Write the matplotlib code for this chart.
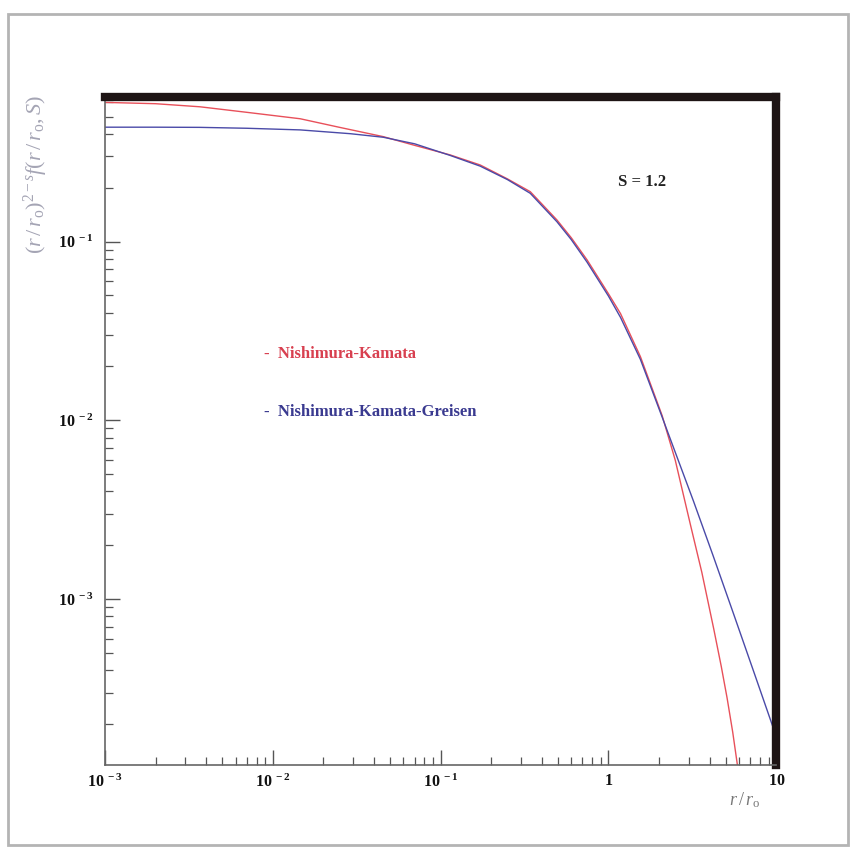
import matplotlib
matplotlib.use('Agg')
import matplotlib.pyplot as plt
from matplotlib.patches import Rectangle
from matplotlib.ticker import LogLocator, NullFormatter, FixedLocator

plt.rcParams['font.family'] = 'Liberation Serif'
plt.rcParams['mathtext.fontset'] = 'custom'
plt.rcParams['mathtext.rm'] = 'Liberation Serif'
plt.rcParams['mathtext.it'] = 'Liberation Serif:italic'
plt.rcParams['mathtext.bf'] = 'Liberation Serif:bold'

# lateral distribution, S = 1.2
r_nk = [0.001, 0.002, 0.00368, 0.007, 0.01456, 0.025, 0.0455, 0.07, 0.114,
        0.172, 0.25, 0.342, 0.493, 0.6, 0.745, 1.0, 1.18, 1.55, 2.09, 2.5,
        3.08, 3.6, 4.24, 4.7, 5.09, 5.5, 5.85, 6.2]
f_nk = [0.600, 0.590, 0.567, 0.528, 0.486, 0.435, 0.386, 0.345, 0.305,
        0.268, 0.224, 0.190, 0.132, 0.105, 0.079, 0.051, 0.0395, 0.0227, 0.0106, 5.98e-3,
        2.6e-3, 1.41e-3, 6.8e-4, 4.2e-4, 2.8e-4, 1.8e-4, 1.2e-4, 7.5e-5]

r_nkg = [0.001, 0.002, 0.00368, 0.007, 0.01456, 0.0289, 0.0455, 0.07, 0.114,
         0.172, 0.25, 0.342, 0.493, 0.6, 0.745, 1.0, 1.18, 1.55, 2.09, 2.6,
         3.21, 4.2, 5.58, 7.5, 10.0]
f_nkg = [0.436, 0.436, 0.435, 0.430, 0.421, 0.401, 0.383, 0.352, 0.303,
         0.264, 0.222, 0.186, 0.129, 0.1025, 0.0767, 0.0495, 0.0376, 0.0219, 0.0104, 6.0e-3,
         3.53e-3, 1.75e-3, 8.2e-4, 3.7e-4, 1.7e-4]

xticks = [1e-3, 1e-2, 1e-1, 1, 10]
xticklabels = [r'$\mathbf{10^{\ -3}}$', r'$\mathbf{10^{\ -2}}$', r'$\mathbf{10^{\ -1}}$',
               r'$\mathbf{1}$', r'$\mathbf{10}$']
yticks = [1e-3, 1e-2, 1e-1]
yticklabels = [r'$\mathbf{10^{\ -3}}$', r'$\mathbf{10^{\ -2}}$', r'$\mathbf{10^{\ -1}}$']

fig = plt.figure(figsize=(8.54, 8.49), dpi=100)
ax = fig.add_axes([0.123, 0.099, 0.786, 0.787])

ax.plot(r_nk, f_nk, color='#e8505a', lw=1.0)
ax.plot(r_nkg, f_nkg, color='#4a4aa8', lw=1.0)

ax.set_xscale('log')
ax.set_yscale('log')
ax.set_xlim(1e-3, 10)
ax.set_ylim(1.18e-4, 0.645)

ax.xaxis.set_major_locator(FixedLocator(xticks))
ax.set_xticklabels(xticklabels)
ax.yaxis.set_major_locator(FixedLocator(yticks))
ax.set_yticklabels(yticklabels)
ax.xaxis.set_minor_locator(LogLocator(base=10, subs=range(2, 10)))
ax.yaxis.set_minor_locator(LogLocator(base=10, subs=range(2, 10)))
ax.xaxis.set_minor_formatter(NullFormatter())
ax.yaxis.set_minor_formatter(NullFormatter())

ax.tick_params(which='major', direction='in', length=11, width=1.0, color='#555555',
               labelsize=11.5, labelcolor='#111111', pad=8)
ax.tick_params(axis='x', which='major', pad=6)
ax.tick_params(which='minor', direction='in', length=6, width=0.9, color='#555555')
ax.tick_params(top=False, right=False, which='both')

for s in ['left', 'bottom']:
    ax.spines[s].set_color('#666666')
    ax.spines[s].set_linewidth(1.2)
for s in ['top', 'right']:
    ax.spines[s].set_color('#1e1414')
    ax.spines[s].set_linewidth(6)

ax.text(0.80, 0.872, 'S = 1.2', transform=ax.transAxes, fontsize=12,
        fontweight='bold', color='#222222', ha='center', va='center')
ax.text(0.237, 0.615, '-  Nishimura-Kamata', transform=ax.transAxes, fontsize=12,
        fontweight='bold', color='#d84050', ha='left', va='center')
ax.text(0.237, 0.528, '-  Nishimura-Kamata-Greisen', transform=ax.transAxes, fontsize=12,
        fontweight='bold', color='#3a3a90', ha='left', va='center')

fig.text(36 / 854, 1 - 175 / 849, r'$(r\,/\,r_{\rm o})^{2-s}f(r\,/\,r_{\rm o},S)$',
         rotation=90, fontsize=16, color='#a4a4b4', ha='center', va='center')
fig.text(745 / 854, 1 - 800 / 849, r'$r\,/\,r_{\rm o}$', fontsize=13,
         color='#777777', ha='center', va='center')

# page frame
fig.patches.append(Rectangle((8 / 854, 4 / 849), 840 / 854, 831 / 849,
                             transform=fig.transFigure, fill=False,
                             edgecolor='#b4b4b4', lw=2))

fig.savefig('out.png', dpi=100)
